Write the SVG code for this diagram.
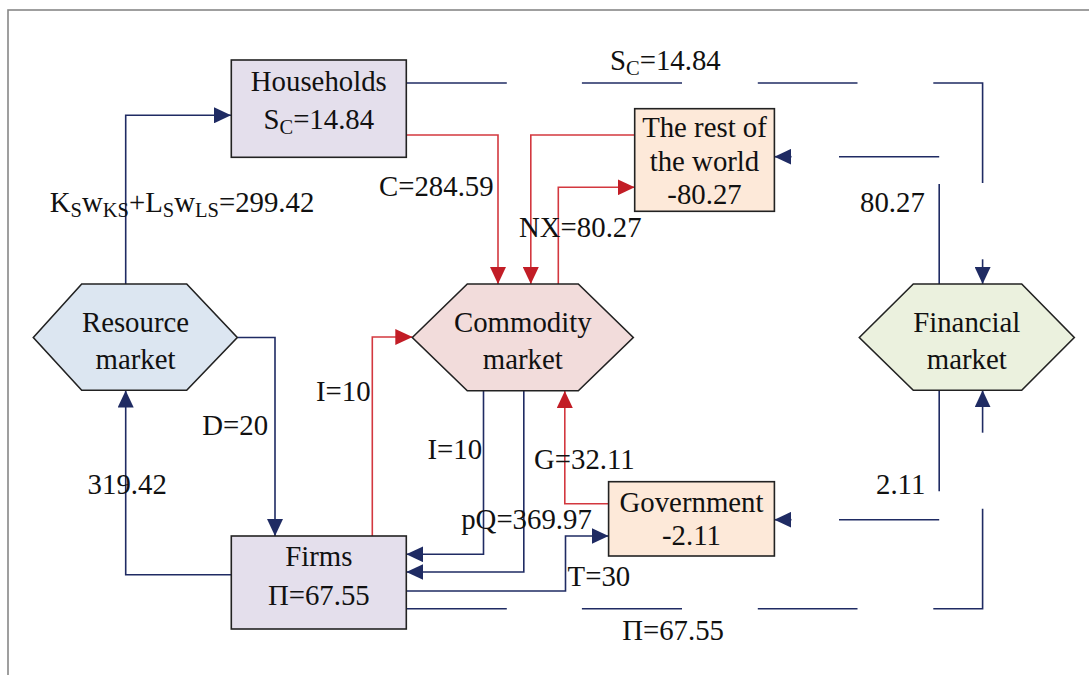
<svg xmlns="http://www.w3.org/2000/svg" width="1089" height="675" viewBox="0 0 1089 675">
<defs>
<style>
text{font-family:"Liberation Serif","Times New Roman",serif;font-size:28.8px;fill:#111}
.sub{font-size:20.5px}
.box{stroke:#222;stroke-width:1.6}
.nv{fill:none;stroke:#1F2B63;stroke-width:1.6}
.rd{fill:none;stroke:#D3383F;stroke-width:1.6}
.na{marker-end:url(#an)}
.ra{marker-end:url(#ar)}
</style>
<marker id="an" viewBox="0 0 17 16" markerWidth="17" markerHeight="16" refX="17" refY="8" orient="auto" markerUnits="userSpaceOnUse"><path d="M0,0 L17,8 L0,16 z" fill="#1F2B63"/></marker>
<marker id="ar" viewBox="0 0 17 16" markerWidth="17" markerHeight="16" refX="17" refY="8" orient="auto" markerUnits="userSpaceOnUse"><path d="M0,0 L17,8 L0,16 z" fill="#C21D26"/></marker>
</defs>
<rect x="0" y="0" width="1089" height="675" fill="#fff"/>
<rect x="8" y="10" width="1200" height="800" fill="none" stroke="#888" stroke-width="1.6"/>

<g id="connectors">
<polyline class="nv na" points="125.7,284 125.7,115.3 231,115.3"/>
<polyline class="nv na" points="237.3,337.5 275,337.5 275,536"/>
<polyline class="nv na" points="231,574.7 125.7,574.7 125.7,390.5"/>
<polyline class="rd ra" points="406,135 498,135 498,284"/>
<polyline class="rd ra" points="635,135 530.8,135 530.8,284"/>
<polyline class="rd ra" points="558.3,284 558.3,187.3 634.7,187.3"/>
<polyline class="rd ra" points="372.3,536 372.3,337 412.3,337"/>
<polyline class="nv na" points="483.5,391 483.5,554.3 406.3,554.3"/>
<polyline class="nv na" points="523.8,391 523.8,572 406.3,572"/>
<polyline class="rd ra" points="608.6,503.7 564.8,503.7 564.8,391"/>
<polyline class="nv na" points="406.3,591 565.5,591 565.5,536 608.6,536"/>
<line class="nv" x1="406.3" y1="83" x2="506.8" y2="83"/>
<line class="nv" x1="581.9" y1="83" x2="682" y2="83"/>
<line class="nv" x1="757.8" y1="83" x2="857.5" y2="83"/>
<polyline class="nv" points="933.3,83 982.6,83 982.6,183"/>
<line class="nv na" x1="982.6" y1="259.3" x2="982.6" y2="284"/>
<line class="nv" x1="939.2" y1="284" x2="939.2" y2="184"/>
<line class="nv" x1="939.2" y1="156.7" x2="839" y2="156.7"/>
<line class="nv na" x1="791.5" y1="156.7" x2="774.4" y2="156.7"/>
<line class="nv" x1="939.2" y1="390.3" x2="939.2" y2="491.3"/>
<line class="nv" x1="939.2" y1="519.7" x2="839" y2="519.7"/>
<line class="nv na" x1="791.5" y1="519.7" x2="774.4" y2="519.7"/>
<line class="nv" x1="406.3" y1="608.7" x2="506.8" y2="608.7"/>
<line class="nv" x1="581.9" y1="608.7" x2="682" y2="608.7"/>
<line class="nv" x1="757.8" y1="608.7" x2="857.5" y2="608.7"/>
<polyline class="nv" points="933.3,608.7 982.6,608.7 982.6,508.7"/>
<line class="nv na" x1="982.6" y1="432.7" x2="982.6" y2="390.3"/>
</g>

<g id="labels">
<text x="49.7" y="211.7">K<tspan class="sub" dy="5">S</tspan><tspan dy="-5">w</tspan><tspan class="sub" dy="5">KS</tspan><tspan dy="-5">+L</tspan><tspan class="sub" dy="5">S</tspan><tspan dy="-5">w</tspan><tspan class="sub" dy="5">LS</tspan><tspan dy="-5">=299.42</tspan></text>
<text x="379" y="196">C=284.59</text>
<text x="519" y="236.7">NX=80.27</text>
<text x="610" y="70">S<tspan class="sub" dy="5">C</tspan><tspan dy="-5">=14.84</tspan></text>
<text x="860" y="211.7">80.27</text>
<text x="202.3" y="435.3">D=20</text>
<text x="316" y="401">I=10</text>
<text x="87.6" y="493.7">319.42</text>
<text x="427.5" y="459.3">I=10</text>
<text x="534" y="468.7">G=32.11</text>
<text x="461.2" y="528.7">pQ=369.97</text>
<text x="567.6" y="586.3">T=30</text>
<text x="876" y="493.7">2.11</text>
<text x="622.2" y="640.3">Π=67.55</text>
</g>

<g id="households">
<rect class="box" x="231.3" y="60" width="175" height="97.3" fill="#E4DFEC"/>
<text x="318.8" y="90.7" text-anchor="middle">Households</text>
<text x="318.8" y="129.3" text-anchor="middle">S<tspan class="sub" dy="5">C</tspan><tspan dy="-5">=14.84</tspan></text>
</g>

<g id="rest-of-world">
<rect class="box" x="634.7" y="108.7" width="139.7" height="102.6" fill="#FDE9D9"/>
<text x="704.5" y="136.7" text-anchor="middle">The rest of</text>
<text x="704.5" y="170.7" text-anchor="middle">the world</text>
<text x="704.5" y="204" text-anchor="middle">-80.27</text>
</g>

<g id="resource-market">
<polygon class="box" points="33.3,337.5 81.7,284 186.7,284 237.3,337.5 186.7,390.3 81.7,390.3" fill="#DCE6F1"/>
<text x="135.5" y="331.7" text-anchor="middle">Resource</text>
<text x="135.5" y="369.3" text-anchor="middle">market</text>
</g>

<g id="commodity-market">
<polygon class="box" points="412.3,337.5 467.3,284 578.3,284 633.3,337.5 578.3,390.7 467.3,390.7" fill="#F2DCDB"/>
<text x="522.8" y="331.7" text-anchor="middle">Commodity</text>
<text x="522.8" y="369.3" text-anchor="middle">market</text>
</g>

<g id="financial-market">
<polygon class="box" points="859.3,337.5 913.3,284 1021.7,284 1074.3,337.5 1021.7,390.3 913.3,390.3" fill="#EBF1DE"/>
<text x="966.8" y="331.7" text-anchor="middle">Financial</text>
<text x="966.8" y="369.3" text-anchor="middle">market</text>
</g>

<g id="government">
<rect class="box" x="608.6" y="481.7" width="165.8" height="74.3" fill="#FDE9D9"/>
<text x="691.5" y="512" text-anchor="middle">Government</text>
<text x="691.5" y="545.3" text-anchor="middle">-2.11</text>
</g>

<g id="firms">
<rect class="box" x="231.3" y="536" width="175" height="93" fill="#E4DFEC"/>
<text x="318.8" y="566.3" text-anchor="middle">Firms</text>
<text x="318.8" y="604.7" text-anchor="middle">Π=67.55</text>
</g>
</svg>
